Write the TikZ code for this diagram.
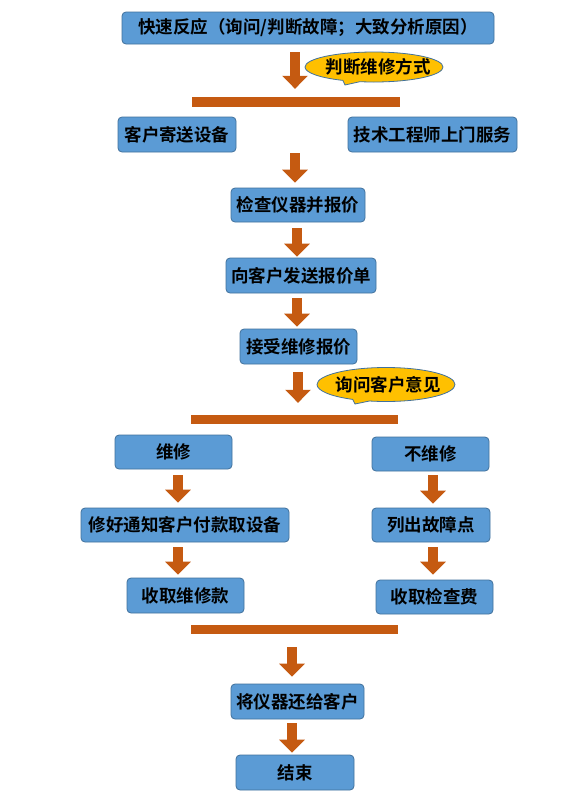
\documentclass[tikz,border=0pt]{standalone}
\usepackage{fontspec}
\setmainfont{Noto Sans CJK SC}[BoldFont={Noto Sans CJK SC Bold}]
\usetikzlibrary{arrows.meta,shapes.callouts,calc}
\definecolor{boxblue}{HTML}{5B9BD5}
\definecolor{boxline}{HTML}{41719C}
\definecolor{arrowc}{HTML}{C55A11}
\definecolor{callfill}{HTML}{FFC000}
\tikzset{
  box/.style={draw=boxline, line width=0.8pt, fill=boxblue, rounded corners=4pt,
    inner sep=0pt, font=\fontsize{17.5}{20}\selectfont\bfseries, text=black},
  bar/.style={fill=arrowc, draw=none, inner sep=0pt},
  barrow/.style={draw=arrowc, line width=10pt, -{Triangle[width=25pt,length=13pt]}},
  callbox/.style={ellipse callout, draw=boxline, line width=0.8pt, fill=callfill,
    inner sep=0pt, font=\fontsize{17.5}{20}\selectfont\bfseries, text=black}
}
\newcommand{\bx}[5]{\node[box, minimum width=#3pt, minimum height=#4pt] (#1) at (#2) {#5};}
\begin{document}
\begin{tikzpicture}[x=1pt,y=-1pt]
\useasboundingbox[fill=white] (0,0) rectangle (586,807);

\bx{b1}{308,28}{372}{32}{快速反应（询问/判断故障；大致分析原因）}
\node[bar, minimum width=208pt, minimum height=10pt] (bar1) at (296,102) {};
\bx{l1}{177,134.5}{118}{35}{客户寄送设备}
\bx{r1}{432.5,134.5}{169}{35}{技术工程师上门服务}
\bx{check}{298,205}{134}{34}{检查仪器并报价}
\bx{send}{301,275.5}{150}{35}{向客户发送报价单}
\bx{accept}{298.5,346.5}{117}{35}{接受维修报价}
\node[bar, minimum width=207pt, minimum height=9pt] (bar2) at (294.5,419.5) {};
\bx{rep}{173.5,452}{117}{34}{维修}
\bx{nrep}{430.5,454}{117}{34}{不维修}
\bx{fixn}{185,525}{208}{34}{修好通知客户付款取设备}
\bx{list}{431,525}{118}{34}{列出故障点}
\bx{colm}{185.5,595.5}{117}{35}{收取维修款}
\bx{colf}{434.5,597}{117}{34}{收取检查费}
\node[bar, minimum width=207pt, minimum height=9pt] (bar3) at (294.5,629.5) {};
\bx{ret}{297.5,701.5}{133}{35}{将仪器还给客户}
\bx{fin}{295,772.5}{118}{35}{结束}

\coordinate (xa) at (295,0);
\coordinate (xb) at (297,0);
\coordinate (xc) at (298,0);
\coordinate (xl) at (178,0);
\coordinate (xr) at (433,0);
\coordinate (xd) at (292,0);

\draw[barrow, shorten <=8pt, shorten >=8pt] (b1.south -| xa) -- (bar1.north -| xa);
\draw[barrow, shorten <=1pt, shorten >=5pt] (l1.south -| xa) -- (check.north -| xa);
\draw[barrow, shorten <=6pt, shorten >=1pt] (check.south -| xb) -- (send.north -| xb);
\draw[barrow, shorten <=5pt, shorten >=2pt] (send.south -| xb) -- (accept.north -| xb);
\draw[barrow, shorten <=8pt, shorten >=12pt] (accept.south -| xc) -- (bar2.north -| xc);
\draw[barrow, shorten <=6pt, shorten >=5pt] (rep.south -| xl) -- (fixn.north -| xl);
\draw[barrow, shorten <=4pt, shorten >=4pt] (nrep.south -| xr) -- (list.north -| xr);
\draw[barrow, shorten <=5pt, shorten >=3pt] (fixn.south -| xl) -- (colm.north -| xl);
\draw[barrow, shorten <=5pt, shorten >=5pt] (list.south -| xr) -- (colf.north -| xr);
\draw[barrow, shorten <=13pt, shorten >=7pt] (bar3.south -| xd) -- (ret.north -| xd);
\draw[barrow, shorten <=4pt, shorten >=2pt] (ret.south -| xd) -- (fin.north -| xd);

\node[callbox, minimum width=138pt, minimum height=30pt,
  callout absolute pointer={(345,85)}] (c1) at (374,67) {\makebox[0pt]{\hspace{8pt}判断维修方式}};
\node[callbox, minimum width=138pt, minimum height=34pt,
  callout absolute pointer={(355,404)}] (c2) at (386,384.5) {\makebox[0pt]{\hspace{4pt}询问客户意见}};
\end{tikzpicture}
\end{document}
